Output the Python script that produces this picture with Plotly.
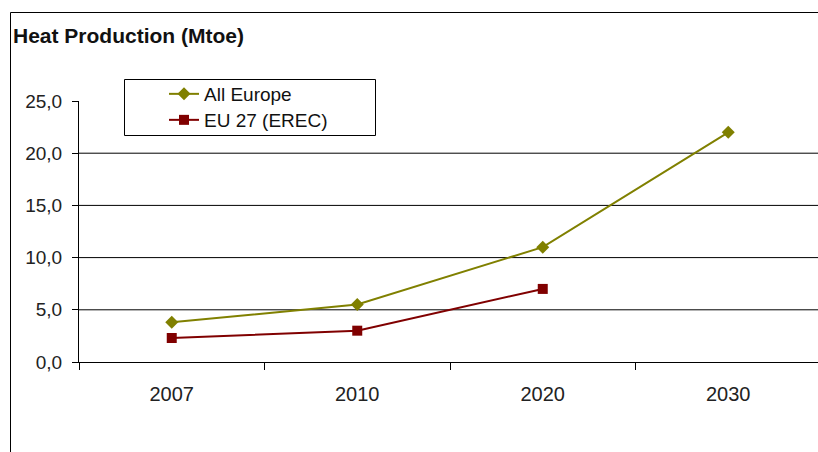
import plotly.graph_objects as go

# Heat production by year (Mtoe)
years = ["2007", "2010", "2020", "2030"]
all_europe = [3.8, 5.5, 11.0, 22.0]
eu27_years = ["2007", "2010", "2020"]
eu27_erec = [2.3, 3.0, 7.0]
y_ticks = [0, 5, 10, 15, 20, 25]
grid_levels = [5, 10, 15, 20]

OLIVE = "#808000"
MAROON = "#800000"
FONT = "Liberation Sans, Arial, sans-serif"

W, H = 818, 452
ML, MR, MT, MB = 79, 0, 101, 90
PW = W - ML - MR
PH = H - MT - MB


def px_x(px):
    return (px - ML) / PW


def px_y(py):
    return (H - MB - py) / PH


fig = go.Figure()
fig.add_trace(go.Scatter(
    x=years, y=all_europe, name="All Europe", mode="lines+markers",
    line=dict(color=OLIVE, width=2),
    marker=dict(symbol="diamond", size=10, color=OLIVE),
    legend="legend",
))
fig.add_trace(go.Scatter(
    x=eu27_years, y=eu27_erec, name="EU 27 (EREC)", mode="lines+markers",
    line=dict(color=MAROON, width=2),
    marker=dict(symbol="square", size=10, color=MAROON),
    legend="legend2",
))

shapes = []
# horizontal gridlines
for g in grid_levels:
    shapes.append(dict(type="line", xref="paper", yref="y", x0=0, x1=1.01,
                       y0=g, y1=g, line=dict(color="#000", width=1), layer="below"))
# outer frame (left and top edges)
shapes.append(dict(type="line", xref="paper", yref="paper",
                   x0=px_x(10.5), x1=px_x(10.5), y0=px_y(12.5), y1=px_y(460),
                   line=dict(color="#000", width=1)))
shapes.append(dict(type="line", xref="paper", yref="paper",
                   x0=px_x(10.5), x1=px_x(830), y0=px_y(12.5), y1=px_y(12.5),
                   line=dict(color="#000", width=1)))
# legend box
shapes.append(dict(type="rect", xref="paper", yref="paper",
                   x0=px_x(124.5), x1=px_x(375.5), y0=px_y(79.5), y1=px_y(135.5),
                   line=dict(color="#000", width=1), fillcolor="white", layer="below"))

legend_style = dict(
    xanchor="left", yanchor="middle",
    bgcolor="rgba(0,0,0,0)", borderwidth=0,
    font=dict(family=FONT, size=19, color="#111"),
    itemwidth=30,
)

fig.update_layout(
    width=W, height=H,
    margin=dict(l=ML, r=MR, t=MT, b=MB),
    paper_bgcolor="white", plot_bgcolor="white",
    separators=",.",
    font=dict(family=FONT, size=19, color="#222"),
    showlegend=True,
    legend=dict(x=px_x(164), y=px_y(94), **legend_style),
    legend2=dict(x=px_x(164), y=px_y(120), **legend_style),
    shapes=shapes,
    annotations=[dict(
        text="<b>Heat Production (Mtoe)</b>", xref="paper", yref="paper",
        x=px_x(11), y=px_y(49), xanchor="left", yanchor="bottom",
        showarrow=False, font=dict(family=FONT, size=21, color="#111"),
    )],
    xaxis=dict(
        type="category", categoryorder="array", categoryarray=years,
        range=[-0.5, 3.5 - 3 / 185.5],
        showline=True, linecolor="#000", linewidth=1,
        showgrid=False, zeroline=False,
        ticks="outside", tickson="boundaries", ticklen=7, tickcolor="#000",
        ticklabelstandoff=14,
        tickfont=dict(family=FONT, size=20, color="#222"),
    ),
    yaxis=dict(
        range=[0, 25], tickvals=y_ticks, tickformat=".1f",
        showline=True, linecolor="#000", linewidth=1,
        showgrid=False, zeroline=False,
        ticks="outside", ticklen=6, tickcolor="#000",
        ticklabelstandoff=6,
        tickfont=dict(family=FONT, size=19, color="#222"),
    ),
)

fig.write_html("out.html")
